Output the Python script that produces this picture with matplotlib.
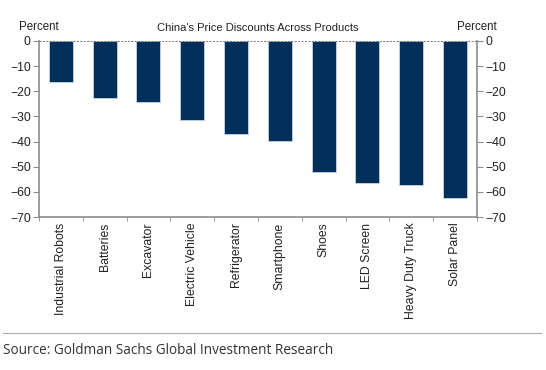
import numpy as np
import matplotlib.pyplot as plt

# data
products = ["Industrial Robots", "Batteries", "Excavator", "Electric Vehicle",
            "Refrigerator", "Smartphone", "Shoes", "LED Screen",
            "Heavy Duty Truck", "Solar Panel"]
discounts = [-16.5, -22.8, -24.3, -31.6, -37.1, -39.8, -52.1, -56.6, -57.2, -62.6]
yticks = [0, -10, -20, -30, -40, -50, -60, -70]

plt.rcParams['font.family'] = ['Liberation Sans', 'DejaVu Sans']
gray = "#8c8c8c"
txt = "#222222"

fig = plt.figure(figsize=(5.46, 3.70), dpi=100)
ax = fig.add_axes([0.0714, 0.4135, 0.802, 0.4757])

x = np.arange(len(products))
ax.bar(x, discounts, width=0.55, color="#00305a", edgecolor="#c9d3df", linewidth=0.6, zorder=2)
ax.axhline(0, color="#777777", linestyle=(0, (2, 1.5)), linewidth=0.7, zorder=3)

ax.set_xlim(-0.5, len(products) - 0.5)
ax.set_ylim(-70, 0)
ax.set_yticks(yticks)
ax.set_yticklabels([str(v).replace("-", "\u2212") for v in yticks])
ax.set_xticks(x)
ax.set_xticklabels(products, rotation=90, fontsize=8.8, color=txt)
ax.set_xticks(np.arange(len(products) + 1) - 0.5, minor=True)
ax.tick_params(axis="x", which="major", length=0, pad=4)
ax.tick_params(axis="x", which="minor", length=3, color=gray, direction="out")
ax.tick_params(axis="y", length=4, color=gray, labelsize=8.8, labelcolor=txt, pad=2)

for s in ["left", "bottom", "right"]:
    ax.spines[s].set_color(gray)
    ax.spines[s].set_linewidth(1.2)
ax.spines["top"].set_visible(False)

ax2 = ax.twinx()
ax2.set_ylim(-70, 0)
ax2.set_yticks(yticks)
ax2.set_yticklabels([str(v).replace("-", "\u2212") for v in yticks])
ax2.tick_params(axis="y", length=4, color=gray, labelsize=8.8, labelcolor=txt, pad=2)
for s in ax2.spines.values():
    s.set_visible(False)

fig.text(0.0714, 0.912, "Percent", fontsize=8.3, color=txt, ha="center", va="bottom")
fig.text(0.8736, 0.912, "Percent", fontsize=8.3, color=txt, ha="center", va="bottom")
fig.text(0.4725, 0.912, "China's Price Discounts Across Products", fontsize=8, color=txt,
         ha="center", va="bottom")

fig.add_artist(plt.Line2D([0.005, 0.99], [0.1, 0.1], color="#aaaaaa", linewidth=0.8))
fig.text(0.006, 0.052, "Source: Goldman Sachs Global Investment Research",
         fontsize=9.8, color="#333333", family=["Open Sans", "DejaVu Sans"], va="center")

fig.savefig("out.png", dpi=100, facecolor="white")
